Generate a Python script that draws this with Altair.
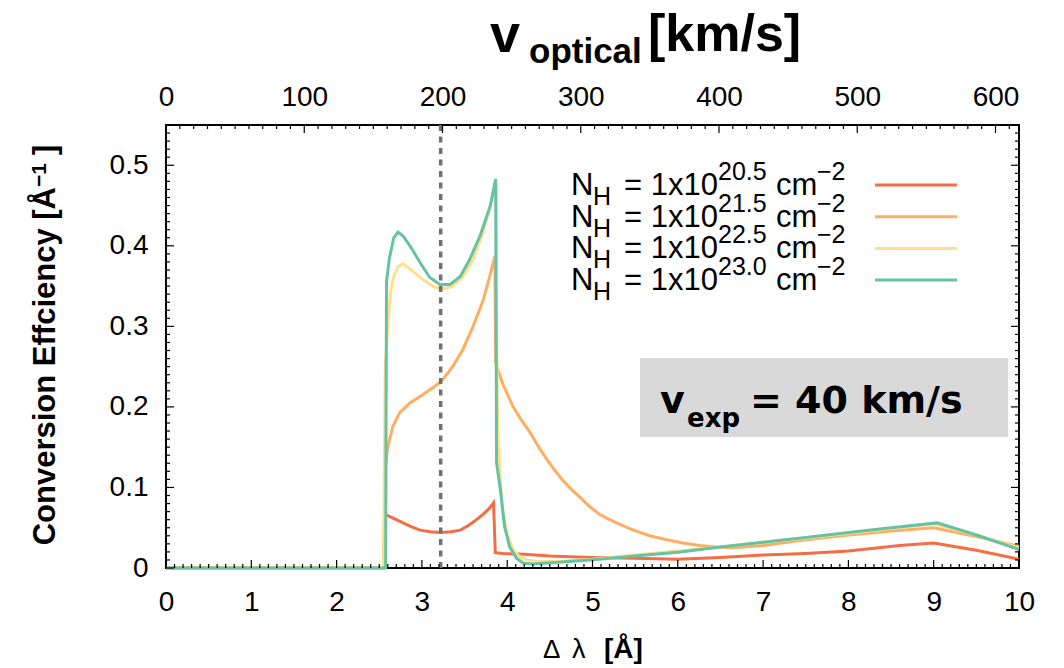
import altair as alt
import pandas as pd
import numpy as np

# ---------------- data ----------------
series_names = ["20.5", "21.5", "22.5", "23.0"]
series_colors = ["#f46d43", "#fdae61", "#fee08b", "#66c2a5"]

red_x = [0, 2.55, 2.57, 2.60, 2.70, 2.78, 2.88, 2.98, 3.10, 3.22, 3.34, 3.45, 3.55, 3.64, 3.72, 3.79, 3.84,
         3.86, 3.95, 4.2, 4.5, 5.0, 5.5, 6.0, 6.5, 7.0, 7.5, 8.0, 8.6, 9.0, 9.5, 10.0]
red_y = [0, 0, 0.066, 0.065, 0.060, 0.056, 0.051, 0.047, 0.045, 0.044, 0.045, 0.047, 0.053, 0.060, 0.067, 0.074, 0.081,
         0.019, 0.018, 0.017, 0.015, 0.013, 0.012, 0.011, 0.013, 0.016, 0.018, 0.021, 0.028, 0.031, 0.022, 0.011]

orange_x = [0, 2.55, 2.57, 2.60, 2.66, 2.74, 2.86, 3.01, 3.13, 3.23, 3.36, 3.48, 3.60, 3.72, 3.80, 3.855,
            3.865, 3.89, 3.95, 4.07, 4.17, 4.27, 4.37, 4.47, 4.56, 4.65, 4.75, 4.85, 4.97, 5.09, 5.28, 5.48, 5.67,
            5.87, 6.06, 6.26, 6.45, 6.65, 7.0, 7.43, 8.0, 8.5, 9.0, 9.5, 10.0]
orange_y = [0, 0, 0.125, 0.150, 0.176, 0.193, 0.205, 0.215, 0.224, 0.232, 0.250, 0.271, 0.300, 0.333, 0.364, 0.387,
            0.255, 0.246, 0.228, 0.200, 0.183, 0.168, 0.150, 0.134, 0.121, 0.109, 0.098, 0.088, 0.076, 0.066, 0.056,
            0.047, 0.040, 0.035, 0.031, 0.028, 0.026, 0.025, 0.028, 0.034, 0.041, 0.046, 0.050, 0.039, 0.027]

yellow_x = [0, 2.55, 2.57, 2.60, 2.63, 2.67, 2.72, 2.78, 2.90, 3.01, 3.13, 3.23, 3.36, 3.48, 3.60, 3.72, 3.83,
            3.87, 3.875, 3.89, 3.92, 3.95, 4.0, 4.07, 4.15, 4.23, 4.35, 4.6, 5.0, 5.5, 6.0, 6.5, 7.0, 7.5, 8.0,
            8.5, 9.0, 9.5, 10.0]
yellow_y = [0, 0, 0.25, 0.30, 0.34, 0.362, 0.374, 0.378, 0.368, 0.358, 0.350, 0.346, 0.350, 0.362, 0.383, 0.417,
            0.461, 0.475, 0.30, 0.17, 0.11, 0.068, 0.042, 0.022, 0.014, 0.010, 0.008, 0.008, 0.011, 0.016, 0.021,
            0.026, 0.032, 0.037, 0.043, 0.049, 0.055, 0.041, 0.025]

green_x = [0, 2.575, 2.585, 2.62, 2.67, 2.72, 2.78, 2.86, 2.98, 3.09, 3.21, 3.33, 3.45, 3.56, 3.68, 3.80, 3.865,
           3.875, 3.92, 3.97, 4.03, 4.11, 4.19, 4.3, 4.6, 4.97, 5.5, 6.03, 6.5, 7.0, 7.5, 8.0, 8.5, 9.04, 9.5, 10.0]
green_y = [0, 0, 0.356, 0.385, 0.410, 0.417, 0.412, 0.400, 0.379, 0.361, 0.352, 0.352, 0.362, 0.383, 0.412, 0.449,
           0.483, 0.131, 0.097, 0.051, 0.026, 0.012, 0.006, 0.005, 0.007, 0.010, 0.015, 0.020, 0.026, 0.032, 0.038,
           0.044, 0.050, 0.056, 0.041, 0.023]

marker_dl = [3.22]            # dotted vertical line
x_major = list(range(0, 11))
y_major = [0, 0.1, 0.2, 0.3, 0.4, 0.5]
v_major = [0, 100, 200, 300, 400, 500, 600]
V_MAX = 617                   # km/s at 10 Å

# ---------------- layout ----------------
W, H = 853, 443
OX, OY = 166, 125
FONT = "Liberation Sans"

XS = alt.Scale(domain=[0, 10], nice=False, zero=False)
YS = alt.Scale(domain=[0, 0.55], nice=False, zero=False)
VS = alt.Scale(domain=[0, V_MAX], nice=False, zero=False)

dummy = pd.DataFrame({"a": [0]})
layers = []

# gray box behind v_exp label
layers.append(alt.Chart(dummy).mark_rect(color="#d9d9d9").encode(
    x=alt.value(640 - OX), x2=alt.value(1008 - OX), y=alt.value(358 - OY), y2=alt.value(437 - OY)))

all_xy = [(red_x, red_y), (orange_x, orange_y), (yellow_x, yellow_y), (green_x, green_y)]
for i, ((xs, ys), name, col) in enumerate(zip(all_xy, series_names, series_colors)):
    d = pd.DataFrame({"dl": xs, "eff": ys})
    xaxis = alt.Axis(orient="bottom", values=x_major, ticks=False, domain=False, grid=False,
                     labelFontSize=28, labelFont=FONT, labelColor="black", labelPadding=20,
                     labelFlush=False, labelOverlap=False, title=None) if i == 0 else None
    yaxis = alt.Axis(orient="left", values=y_major, format="~g", ticks=False, domain=False, grid=False,
                     labelFontSize=28, labelFont=FONT, labelColor="black", labelPadding=18,
                     labelFlush=False, labelOverlap=False, title=None) if i == 0 else None
    layers.append(alt.Chart(d).mark_line(color=col, strokeWidth=3, interpolate="linear").encode(
        x=alt.X("dl:Q", scale=XS, axis=xaxis),
        y=alt.Y("eff:Q", scale=YS, axis=yaxis),
        order=alt.Order("dl:Q")))

# dotted marker line
layers.append(alt.Chart(pd.DataFrame({"dl": marker_dl})).mark_rule(
    color="#707070", strokeWidth=3.5, strokeDash=[6, 5.5]).encode(
    x=alt.X("dl:Q", scale=XS, axis=None)))

# inward ticks
def xticks(vals, y0, y1):
    return alt.Chart(pd.DataFrame({"t": vals})).mark_rule(color="black", strokeWidth=1.2).encode(
        x=alt.X("t:Q", scale=XS, axis=None), y=alt.value(y0), y2=alt.value(y1))

def yticks(vals, x0, x1):
    return alt.Chart(pd.DataFrame({"t": vals})).mark_rule(color="black", strokeWidth=1.2).encode(
        y=alt.Y("t:Q", scale=YS, axis=None), x=alt.value(x0), x2=alt.value(x1))

x_minor = [i / 10 for i in range(101) if i % 10]
y_minor = [i / 100 for i in range(56) if i % 10]
layers += [xticks(x_minor, H, H - 4), xticks(x_major, H, H - 8),
           yticks(y_minor, 0, 4), yticks(y_major, 0, 8),
           yticks(y_minor, W, W - 4), yticks(y_major, W, W - 8)]

v_minor = [v for v in range(0, V_MAX, 10) if v % 100]
layers.append(alt.Chart(pd.DataFrame({"v": v_minor})).mark_rule(color="black", strokeWidth=1.2).encode(
    x=alt.X("v:Q", scale=VS, axis=None), y=alt.value(0), y2=alt.value(4)))
layers.append(alt.Chart(pd.DataFrame({"v": v_major})).mark_rule(color="black", strokeWidth=1.2).encode(
    x=alt.X("v:Q", scale=VS, axis=alt.Axis(orient="top", values=v_major, ticks=False, domain=False,
                                           grid=False, labelFontSize=28, labelFont=FONT, labelColor="black",
                                           labelPadding=14, labelFlush=False, labelOverlap=False, title=None)),
    y=alt.value(0), y2=alt.value(8)))

# text helper (absolute page pixels)
def txt(s, x, y, size, font=FONT, weight="normal", align="left", angle=0, baseline="alphabetic"):
    return alt.Chart(dummy).mark_text(text=s, fontSize=size, font=font, fontWeight=weight, align=align,
                                      baseline=baseline, angle=angle, color="black").encode(
        x=alt.value(x - OX), y=alt.value(y - OY))

# legend
ROW = 31.7
for i, (name, col) in enumerate(zip(series_names, series_colors)):
    dy = i * ROW
    layers.append(alt.Chart(dummy).mark_rule(color=col, strokeWidth=3).encode(
        x=alt.value(875 - OX), x2=alt.value(957 - OX), y=alt.value(185 + dy - OY)))
    layers += [txt("N", 571, 195 + dy, 31),
               txt("H", 593, 205 + dy, 25),
               txt("= 1x10", 718, 195 + dy, 31, align="right"),
               txt(name, 718, 180 + dy, 25),
               txt("cm", 776, 195 + dy, 31),
               txt("\u22122", 817, 180 + dy, 25)]

# v_exp box text
layers += [txt("v", 660, 413, 38, font="DejaVu Sans", weight="bold"),
           txt("exp", 687, 427, 26, font="DejaVu Sans", weight="bold"),
           txt("= 40 km/s", 750, 413, 38, font="DejaVu Sans", weight="bold")]

# top title
layers += [txt("v", 490, 52, 54, weight="bold"),
           txt("optical", 529, 63, 35, weight="bold"),
           txt("[km/s]", 648, 51, 52, weight="bold")]

# bottom title
layers += [txt("\u0394", 543, 658, 26),
           txt("\u03bb", 572, 658, 27),
           txt("[\u00c5]", 604, 658, 28, weight="bold")]

# y title (rotated)
layers += [txt("Conversion Effciency [\u00c5", 55, 187, 31, weight="bold", align="right", angle=270),
           txt("\u22121", 46, 187, 21, weight="bold", align="left", angle=270),
           txt("]", 55, 155, 31, weight="bold", align="left", angle=270)]

chart = alt.layer(*layers).resolve_scale(x="independent", y="independent").properties(
    width=W, height=H, autosize=alt.AutoSizeParams(type="none"),
    padding={"left": OX, "top": OY, "right": 1064 - OX - W, "bottom": 668 - OY - H},
    background="white",
).configure_view(stroke="black", strokeWidth=2)

chart.save("out.html", embed_options={"renderer": "svg", "actions": False})
